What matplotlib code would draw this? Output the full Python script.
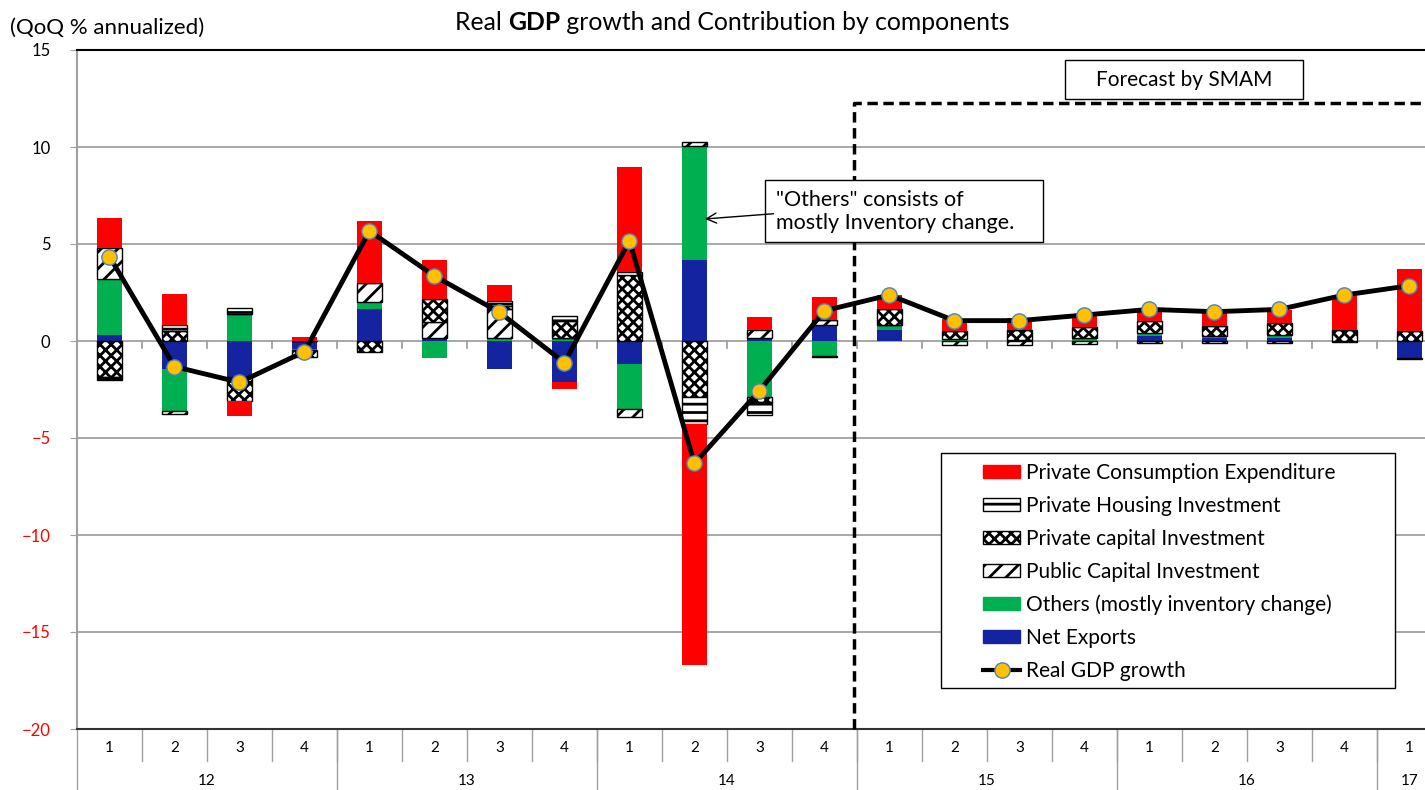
#!/usr/bin/env python3
"""
Real GDP growth and contribution by components (stacked bars + line)
"""
import numpy as np
import matplotlib
matplotlib.use('Agg')
import matplotlib.pyplot as plt
from matplotlib.lines import Line2D
from matplotlib.patches import Patch, Rectangle

# 季度标签
quarters = ['1', '2', '3', '4', '1', '2', '3', '4', '1', '2', '3', '4',
            '1', '2', '3', '4', '1', '2', '3', '4', '1']
years = ['12', '13', '14', '15', '16', '17']
year_centers = [1.5, 5.5, 9.5, 13.5, 17.5, 20]

# 各项贡献度 (%pt)
net_exports = [0.30, -1.42, -1.87, -0.40, 1.63, 0.18, -1.46, -2.13, -1.19, 4.20, 0.17,
               0.82, 0.55, 0.00, 0.00, 0.00, 0.26, 0.17, 0.17, 0.00, -0.86]
others = [2.90, -2.20, 1.40, -0.08, 0.36, -0.89, 0.17, 0.17, -2.33, 5.87, -2.87,
          -0.75, 0.27, 0.08, 0.05, 0.15, 0.17, 0.08, 0.12, 0.00, 0.00]
public_inv = [1.60, -0.15, 0.00, 0.00, 0.98, 0.80, 1.50, 0.00, -0.38, 0.20, 0.40,
              0.26, 0.00, -0.20, -0.20, -0.13, -0.10, -0.08, -0.08, -0.05, -0.08]
capital_inv = [-1.85, 0.50, -1.20, -0.35, -0.58, 1.20, 0.15, 0.86, 3.40, -2.87, -0.25,
               0.00, 0.81, 0.45, 0.52, 0.57, 0.60, 0.52, 0.64, 0.57, 0.52]
housing_inv = [-0.15, 0.30, 0.30, 0.00, 0.00, 0.00, 0.22, 0.28, 0.17, -1.41, -0.70,
               -0.05, 0.00, 0.00, 0.00, 0.00, 0.00, 0.00, 0.00, 0.00, 0.00]
consumption = [1.55, 1.60, -0.80, 0.20, 3.22, 2.00, 0.86, -0.34, 5.41, -12.40, 0.65,
               1.20, 0.74, 0.60, 0.60, 0.68, 0.66, 0.66, 0.66, 1.80, 3.18]
gdp_growth = [4.35, -1.32, -2.13, -0.55, 5.67, 3.35, 1.48, -1.12, 5.17, -6.31, -2.56,
              1.56, 2.37, 1.05, 1.05, 1.34, 1.63, 1.51, 1.63, 2.37, 2.85]

plt.rcParams['font.family'] = ['Lato', 'DejaVu Sans']
plt.rcParams['hatch.linewidth'] = 2.0

TXT = 15  # 正文字号


def stacked_bars(ax, x, series, width=0.39):
    """正负分开堆叠"""
    pos_base = np.zeros(len(x))
    neg_base = np.zeros(len(x))
    for vals, style in series:
        vals = np.asarray(vals, dtype=float)
        base = np.where(vals >= 0, pos_base, neg_base)
        ax.bar(x, vals, width=width, bottom=base, zorder=2, **style)
        pos_base += np.where(vals >= 0, vals, 0)
        neg_base += np.where(vals < 0, vals, 0)


def main():
    fig = plt.figure(figsize=(14.25, 7.9), dpi=100)
    ax = fig.add_axes([77 / 1425, 61 / 790, 1 - 77 / 1425, 679 / 790])

    x = np.arange(len(quarters))

    styles = {
        'pce': dict(color='#FF0000', edgecolor='none'),
        'hou': dict(facecolor='white', edgecolor='black', hatch='--', linewidth=1),
        'cap': dict(facecolor='white', edgecolor='black', hatch='xxx', linewidth=1),
        'pub': dict(facecolor='white', edgecolor='black', hatch='//', linewidth=1),
        'oth': dict(color='#00B050', edgecolor='none'),
        'nx': dict(color='#1424A0', edgecolor='none'),
    }

    # 堆叠顺序（从下到上）
    stacked_bars(ax, x, [
        (net_exports, styles['nx']),
        (others, styles['oth']),
        (public_inv, styles['pub']),
        (capital_inv, styles['cap']),
        (housing_inv, styles['hou']),
        (consumption, styles['pce']),
    ])

    # GDP折线
    ax.plot(x, gdp_growth, color='black', lw=3.5, zorder=4,
            marker='o', markersize=11, markerfacecolor='#FFC000',
            markeredgecolor='#4F81BD', markeredgewidth=1)

    ax.set_xlim(-0.5, 20.24)
    ax.set_ylim(-20, 15)
    ax.set_yticks(np.arange(-20, 16, 5))
    ax.set_xticks([])
    ax.grid(axis='y', color='#A0A0A0', lw=1.3, zorder=0)
    ax.set_axisbelow(True)

    for lab in ax.get_yticklabels():
        if float(lab.get_text().replace('\u2212', '-')) < 0:
            lab.set_color('red')
    ax.tick_params(axis='y', labelsize=12, length=5, color='#A0A0A0', pad=14)

    ax.spines['right'].set_visible(False)
    ax.spines['left'].set_color('#A0A0A0')
    ax.spines['left'].set_linewidth(1.5)
    ax.spines['top'].set_linewidth(1.5)
    ax.spines['bottom'].set_linewidth(1.5)
    ax.spines['bottom'].set_color('#333333')

    # 零线上的小刻度
    for b in np.arange(0.5, 20.5, 1):
        ax.plot([b, b], [0, -0.35], color='#A0A0A0', lw=1.3, zorder=1)

    # 底部分类轴
    px = 35 / 679  # 每像素对应的数据单位
    for i, q in enumerate(quarters):
        ax.text(i, -20 - 19 * px, q, ha='center', va='center', fontsize=11,
                clip_on=False)
    for b in np.arange(0.5, 20.5, 1):
        ax.plot([b, b], [-20, -20 - 32 * px], color='#A0A0A0', lw=1, clip_on=False)
    for b in [-0.5, 3.5, 7.5, 11.5, 15.5, 19.5]:
        ax.plot([b, b], [-20, -20 - 61 * px], color='#A0A0A0', lw=1, clip_on=False)
    for c, yr in zip(year_centers, years):
        ax.text(c, -20 - 52 * px, yr, ha='center', va='center', fontsize=11,
                clip_on=False)

    # 预测区域虚线
    ax.plot([11.45, 11.45, 20.3], [-20, 12.27, 12.27], color='black', lw=2.5,
            ls=(0, (3, 1.6)), zorder=3, clip_on=False)
    ax.add_patch(Rectangle((14.7, 12.47), 3.66, 2.01, fc='white', ec='black',
                           lw=1, zorder=5))
    ax.text(16.53, 13.47, 'Forecast by SMAM', ha='center', va='center',
            fontsize=TXT, zorder=6)

    # 注释
    ax.add_patch(Rectangle((10.08, 5.10), 4.28, 3.20, fc='white', ec='black',
                           lw=1, zorder=5))
    ax.annotate('"Others" consists of\nmostly Inventory change.',
                xy=(9.16, 6.29), xytext=(10.26, 6.68), fontsize=15.5,
                ha='left', va='center', linespacing=1.15, zorder=6,
                arrowprops=dict(arrowstyle='->', color='black', lw=1,
                                mutation_scale=18, shrinkA=0, shrinkB=0,
                                relpos=(0, 0.45)))

    # 图例（外框单独画）
    ax.add_patch(Rectangle((0.641, 0.0604), 0.337, 0.346, transform=ax.transAxes,
                           fc='white', ec='black', lw=1, zorder=5))
    handles = [
        Patch(**styles['pce']),
        Patch(**styles['hou']),
        Patch(**styles['cap']),
        Patch(**styles['pub']),
        Patch(**styles['oth']),
        Patch(**styles['nx']),
        Line2D([0], [0], color='black', lw=3, marker='o', markersize=11,
               markerfacecolor='#FFC000', markeredgecolor='#4F81BD'),
    ]
    labels = ['Private Consumption Expenditure', 'Private Housing Investment',
              'Private capital Investment', 'Public Capital Investment',
              'Others (mostly inventory change)', 'Net Exports', 'Real GDP growth']
    leg = ax.legend(handles, labels, loc='upper left', bbox_to_anchor=(0.672, 0.392),
                    fontsize=TXT, frameon=False,
                    handlelength=1.8, handleheight=0.6, handletextpad=0.25,
                    labelspacing=0.62, borderpad=0, borderaxespad=0)
    leg.set_zorder(6)

    # 标题（GDP加粗）
    fig.text(10 / 1425, 1 - 28 / 790, '(QoQ % annualized)', fontsize=16,
             ha='left', va='center')
    fig.canvas.draw()
    r = fig.canvas.get_renderer()
    parts = [('Real ', 'normal'), ('GDP', 'bold'),
             (' growth and Contribution by components', 'normal')]
    texts = [fig.text(0, 1 - 22 / 790, s, fontsize=17.8, fontweight=w, va='center')
             for s, w in parts]
    widths = [t.get_window_extent(r).width for t in texts]
    x0 = 732 - sum(widths) / 2
    for t, w in zip(texts, widths):
        t.set_x(x0 / 1425)
        x0 += w

    plt.savefig('out.png', dpi=100)
    plt.close()


if __name__ == '__main__':
    main()
